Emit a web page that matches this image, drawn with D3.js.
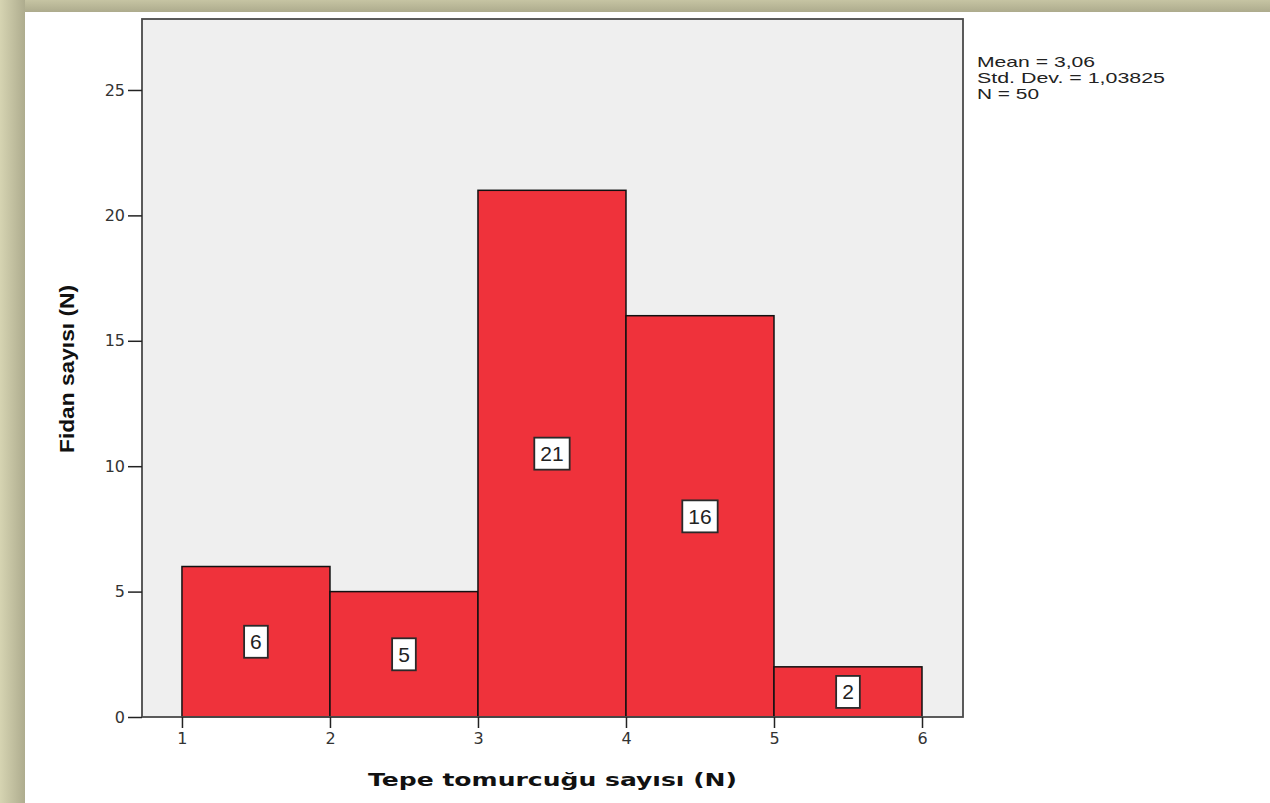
<!DOCTYPE html>
<html>
<head>
<meta charset="utf-8">
<script src="https://cdn.jsdelivr.net/npm/d3@7"></script>
<style>
  html, body { margin: 0; padding: 0; background: #fff; }
  svg { display: block; }
  text { font-family: "DejaVu Sans", Verdana, sans-serif; }
</style>
</head>
<body>
<svg id="chart" width="1270" height="803"></svg>
<script>
// ---- data ----
const binStart = [1, 2, 3, 4, 5];
const binEnd   = [2, 3, 4, 5, 6];
const counts   = [6, 5, 21, 16, 2];
const yTickValues = [0, 5, 10, 15, 20, 25];
const xTickValues = [1, 2, 3, 4, 5, 6];
const statsLines = ["Mean = 3,06", "Std. Dev. = 1,03825", "N = 50"];
const xTitle = "Tepe tomurcuğu sayısı (N)";
const yTitle = "Fidan sayısı (N)";

const W = 1270, H = 803;
const svg = d3.select("#chart");
const ARIAL = '"Liberation Sans", Arial, sans-serif';

// ---- frame / background ----
const defs = svg.append("defs");
const gTop = defs.append("linearGradient").attr("id", "gTop").attr("x1", 0).attr("y1", 0).attr("x2", 0).attr("y2", 1);
gTop.append("stop").attr("offset", "0%").attr("stop-color", "#c6c4a3");
gTop.append("stop").attr("offset", "100%").attr("stop-color", "#adab8d");
const gLeft = defs.append("linearGradient").attr("id", "gLeft").attr("x1", 0).attr("y1", 0).attr("x2", 1).attr("y2", 0);
gLeft.append("stop").attr("offset", "0%").attr("stop-color", "#d6d4b2");
gLeft.append("stop").attr("offset", "100%").attr("stop-color", "#aeac8e");

svg.append("rect").attr("x", 0).attr("y", 0).attr("width", W).attr("height", 12).attr("fill", "url(#gTop)");
svg.append("rect").attr("x", 0).attr("y", 0).attr("width", 25).attr("height", H).attr("fill", "url(#gLeft)");

// ---- scales ----
const plot = { left: 142, right: 963, top: 19, bottom: 717 };
const x = d3.scaleLinear().domain([0.73, 6.277]).range([plot.left, plot.right]);
const y = d3.scaleLinear().domain([0, 27.83]).range([plot.bottom, plot.top]);

// plot background
svg.append("rect")
  .attr("x", plot.left).attr("y", plot.top)
  .attr("width", plot.right - plot.left).attr("height", plot.bottom - plot.top)
  .attr("fill", "#efefef").attr("stroke", "none");

// bars
const bins = counts.map((c, i) => ({ x0: binStart[i], x1: binEnd[i], n: c }));
svg.append("g").selectAll("rect").data(bins).join("rect")
  .attr("x", d => x(d.x0)).attr("y", d => y(d.n))
  .attr("width", d => x(d.x1) - x(d.x0)).attr("height", d => y(0) - y(d.n))
  .attr("fill", "#ef323b").attr("stroke", "#111").attr("stroke-width", 1.5);

// plot frame
svg.append("rect")
  .attr("x", plot.left).attr("y", plot.top)
  .attr("width", plot.right - plot.left).attr("height", plot.bottom - plot.top)
  .attr("fill", "none").attr("stroke", "#4a4a4a").attr("stroke-width", 1.8);

// axes
const yAxis = d3.axisLeft(y).tickValues(yTickValues).tickSize(14).tickPadding(3).tickFormat(d3.format("d"));
const gy = svg.append("g").attr("transform", `translate(${plot.left},0)`).call(yAxis);
gy.select(".domain").remove();
gy.selectAll(".tick line").attr("stroke", "#222").attr("stroke-width", 1.5);
gy.selectAll(".tick text").attr("font-size", 16).attr("fill", "#333");

const xAxis = d3.axisBottom(x).tickValues(xTickValues).tickSize(11).tickPadding(5).tickFormat(d3.format("d"));
const gx = svg.append("g").attr("transform", `translate(0,${plot.bottom})`).call(xAxis);
gx.select(".domain").remove();
gx.selectAll(".tick line").attr("stroke", "#222").attr("stroke-width", 1.5);
gx.selectAll(".tick text").attr("font-size", 16).attr("fill", "#333");

// count labels in boxes
const lab = svg.append("g").selectAll("g").data(bins).join("g")
  .attr("transform", d => `translate(${x((d.x0 + d.x1) / 2)},${(y(d.n) + y(0)) / 2})`);
lab.append("text")
  .attr("text-anchor", "middle").attr("dy", "0.36em")
  .style("font-family", ARIAL)
  .attr("font-size", 21).attr("fill", "#222")
  .text(d => d.n);
lab.each(function() {
  const g = d3.select(this);
  const t = g.select("text");
  const w = t.node().getComputedTextLength();
  g.insert("rect", "text")
    .attr("x", -w / 2 - 6).attr("y", -16)
    .attr("width", w + 12).attr("height", 32)
    .attr("fill", "#fff").attr("stroke", "#2a2a2a").attr("stroke-width", 1.8);
});

// axis titles
svg.append("text")
  .attr("x", 552.5).attr("y", 786)
  .attr("text-anchor", "middle")
  .attr("font-size", 18).attr("font-weight", "bold").attr("fill", "#111")
  .attr("textLength", 369).attr("lengthAdjust", "spacingAndGlyphs")
  .text(xTitle);

svg.append("text")
  .attr("transform", "translate(74,369) rotate(-90)")
  .attr("text-anchor", "middle")
  .style("font-family", ARIAL)
  .attr("font-size", 21).attr("font-weight", "bold").attr("fill", "#111")
  .attr("textLength", 168).attr("lengthAdjust", "spacingAndGlyphs")
  .text(yTitle);

// stats
const statW = [118, 188, 62];
const statY = [67, 83, 99];
svg.append("g").selectAll("text").data(statsLines).join("text")
  .attr("x", 977).attr("y", (d, i) => statY[i])
  .style("font-family", ARIAL)
  .attr("font-size", 15).attr("fill", "#222")
  .attr("textLength", (d, i) => statW[i]).attr("lengthAdjust", "spacingAndGlyphs")
  .text(d => d);
</script>
</body>
</html>
